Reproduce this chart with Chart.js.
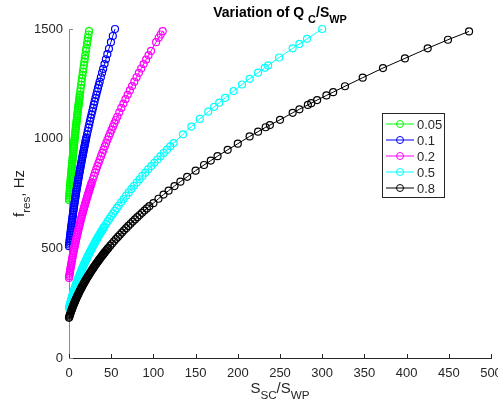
<!DOCTYPE html>
<html>
<head>
<meta charset="utf-8">
<title>Variation of Q_C/S_WP</title>
<script src="https://cdn.jsdelivr.net/npm/chart.js@4.4.1/dist/chart.umd.min.js"></script>
<style>
  html, body { margin: 0; padding: 0; background: #fff; }
  #chart { display: block; }
</style>
</head>
<body>
<canvas id="chart" width="498" height="410"></canvas>
<script>
// series: Q_C/S_WP ratio -> f_res vs S_SC/S_WP
const seriesLabels = ["0.05", "0.1", "0.2", "0.5", "0.8"];
const seriesColors = ["#00ff00", "#0000ff", "#ff00ff", "#00ffff", "#000000"];
const xTicks = [0, 50, 100, 150, 200, 250, 300, 350, 400, 450, 500];
const yTicks = [0, 500, 1000, 1500];

const xs005 = [0, 0.15, 0.3, 0.46, 0.61, 0.77, 0.93, 1.09, 1.25, 1.42, 1.58, 1.75, 1.92, 2.09, 2.26, 2.43, 2.61, 2.78, 2.96, 3.14,
  3.32, 3.5, 3.69, 3.87, 4.06, 4.25, 4.44, 4.63, 4.83, 5.02, 5.22, 5.42, 5.62, 5.82, 6.02, 6.22, 6.43, 6.64, 6.85, 7.06,
  7.27, 7.48, 7.7, 7.92, 8.14, 8.36, 8.58, 8.8, 9.03, 9.25, 9.48, 9.71, 9.94, 10.17, 10.41, 10.64, 10.88, 11.12, 11.36, 11.6,
  11.85, 12.09, 12.34, 12.59, 12.84, 13.34, 13.85, 14.37, 14.89, 15.42, 15.96, 16.5, 17.05, 17.6, 18.16, 18.73, 19.3, 20.08,
  20.55, 21.26, 21.86, 22.47, 23.08, 23.7];
const fr005 = [720, 727.5, 735, 742.5, 750, 757.5, 765, 772.5, 780, 787.5, 795, 802.5, 810, 817.5, 825, 832.5, 840, 847.5, 855, 862.5,
  870, 877.5, 885, 892.5, 900, 907.5, 915, 922.5, 930, 937.5, 945, 952.5, 960, 967.5, 975, 982.5, 990, 997.5, 1005, 1012.5,
  1020, 1027.5, 1035, 1042.5, 1050, 1057.5, 1065, 1072.5, 1080, 1087.5, 1095, 1102.5, 1110, 1117.5, 1125, 1132.5, 1140, 1147.5, 1155, 1162.5,
  1170, 1177.5, 1185, 1192.5, 1200, 1215, 1230, 1245, 1260, 1275, 1290, 1305, 1320, 1335, 1350, 1365, 1380, 1400,
  1412, 1430, 1445, 1460, 1475, 1490];

const xs01 = [0, 0.21, 0.43, 0.64, 0.86, 1.09, 1.31, 1.54, 1.78, 2.01, 2.25, 2.49, 2.74, 2.99, 3.24, 3.49, 3.75, 4.01, 4.27, 4.54,
  4.81, 5.08, 5.36, 5.64, 5.92, 6.2, 6.49, 6.78, 7.08, 7.37, 7.68, 7.98, 8.29, 8.6, 8.91, 9.22, 9.54, 9.87, 10.19, 10.52,
  10.85, 11.18, 11.52, 11.86, 12.21, 12.55, 12.9, 13.26, 13.61, 13.97, 14.33, 14.7, 15.07, 15.44, 15.81, 16.19, 16.57, 16.95, 17.34, 17.73,
  18.12, 18.52, 18.92, 19.32, 19.73, 20.14, 20.55, 21.38, 22.22, 23.08, 23.95, 24.83, 25.72, 26.63, 27.55, 28.48, 29.42, 30.38,
  31.35, 32.33, 33.32, 34.32, 35.34, 36.37, 37.76, 39.18, 40.47, 42.07, 43.7, 45.43, 47.34, 49.69, 51.92, 54.52];
const fr01 = [510, 517.5, 525, 532.5, 540, 547.5, 555, 562.5, 570, 577.5, 585, 592.5, 600, 607.5, 615, 622.5, 630, 637.5, 645, 652.5,
  660, 667.5, 675, 682.5, 690, 697.5, 705, 712.5, 720, 727.5, 735, 742.5, 750, 757.5, 765, 772.5, 780, 787.5, 795, 802.5,
  810, 817.5, 825, 832.5, 840, 847.5, 855, 862.5, 870, 877.5, 885, 892.5, 900, 907.5, 915, 922.5, 930, 937.5, 945, 952.5,
  960, 967.5, 975, 982.5, 990, 997.5, 1005, 1020, 1035, 1050, 1065, 1080, 1095, 1110, 1125, 1140, 1155, 1170,
  1185, 1200, 1215, 1230, 1245, 1260, 1280, 1300, 1318, 1340, 1362, 1385, 1410, 1440, 1468, 1500];

const xs02 = [0, 0.29, 0.59, 0.9, 1.21, 1.53, 1.86, 2.19, 2.52, 2.86, 3.21, 3.57, 3.93, 4.29, 4.66, 5.04, 5.43, 5.82, 6.21, 6.61,
  7.02, 7.44, 7.86, 8.28, 8.71, 9.15, 9.59, 10.04, 10.5, 10.96, 11.43, 11.9, 12.38, 12.87, 13.36, 13.86, 14.36, 14.87, 15.39, 15.91,
  16.44, 16.97, 17.51, 18.06, 18.61, 19.16, 19.73, 20.3, 20.87, 21.45, 22.04, 22.64, 23.23, 23.84, 24.45, 25.07, 25.69, 26.32, 26.96,
  28.25, 29.56, 30.89, 32.25, 33.64, 35.05, 36.48, 37.94, 39.42, 40.92, 42.45, 44.0, 45.57, 47.17, 48.8, 50.45, 52.12, 53.81, 55.53, 57.28,
  59.64, 62.04, 64.49, 66.98, 69.51, 72.08, 74.7, 77.36, 80.06, 82.81, 85.59, 88.42, 91.3, 94.21, 97.17, 103.21, 106.3, 108.64, 111.0];
const fr02 = [365, 372.5, 380, 387.5, 395, 402.5, 410, 417.5, 425, 432.5, 440, 447.5, 455, 462.5, 470, 477.5, 485, 492.5, 500, 507.5,
  515, 522.5, 530, 537.5, 545, 552.5, 560, 567.5, 575, 582.5, 590, 597.5, 605, 612.5, 620, 627.5, 635, 642.5, 650, 657.5,
  665, 672.5, 680, 687.5, 695, 702.5, 710, 717.5, 725, 732.5, 740, 747.5, 755, 762.5, 770, 777.5, 785, 792.5, 800,
  815, 830, 845, 860, 875, 890, 905, 920, 935, 950, 965, 980, 995, 1010, 1025, 1040, 1055, 1070, 1085, 1100,
  1120, 1140, 1160, 1180, 1200, 1220, 1240, 1260, 1280, 1300, 1320, 1340, 1360, 1380, 1400, 1440, 1460, 1475, 1490];

const xs05 = [0, 0.38, 0.76, 1.16, 1.57, 1.98, 2.41, 2.84, 3.29, 3.74, 4.21, 4.68, 5.17, 5.66, 6.17, 6.68, 7.21, 7.74, 8.28, 8.84,
  9.4, 9.97, 10.56, 11.15, 11.75, 12.36, 12.99, 13.62, 14.26, 14.91, 15.57, 16.25, 16.93, 17.62, 18.32, 19.03, 19.75, 20.48, 21.22, 21.97,
  22.73, 23.5, 24.28, 25.07, 25.87, 26.68, 27.5, 28.32, 29.16, 30.01, 30.87, 31.74, 32.61, 33.5, 34.4, 35.31, 36.22, 37.15, 38.09, 39.03,
  39.99, 40.96, 41.93, 43.91, 45.93, 47.99, 50.09, 52.23, 54.41, 56.63, 58.88, 61.76, 64.7, 67.7, 70.76, 73.88, 77.06, 80.31, 83.61, 86.98,
  90.41, 93.9, 97.45, 101.06, 104.73, 108.47, 112.27, 116.13, 120.05, 124.03, 135, 145, 155, 165, 172, 178, 185, 195, 205, 214,
  224, 232, 236, 249, 265, 273, 282, 300];
const fr05 = [227, 233, 239, 245, 251, 257, 263, 269, 275, 281, 287, 293, 299, 305, 311, 317, 323, 329, 335, 341,
  347, 353, 359, 365, 371, 377, 383, 389, 395, 401, 407, 413, 419, 425, 431, 437, 443, 449, 455, 461,
  467, 473, 479, 485, 491, 497, 503, 509, 515, 521, 527, 533, 539, 545, 551, 557, 563, 569, 575, 581,
  587, 593, 599, 611, 623, 635, 647, 659, 671, 683, 695, 710, 725, 740, 755, 770, 785, 800, 815, 830,
  845, 860, 875, 890, 905, 920, 935, 950, 965, 980, 1020, 1055, 1090, 1123, 1145, 1164, 1186, 1217, 1247, 1273,
  1301, 1323, 1334, 1370, 1412, 1432, 1455, 1500];

const xs08 = [0, 0.44, 0.89, 1.35, 1.82, 2.31, 2.81, 3.33, 3.86, 4.4, 4.95, 5.51, 6.09, 6.68, 7.29, 7.91, 8.54, 9.18, 9.84, 10.51,
  11.19, 11.88, 12.59, 13.31, 14.05, 14.79, 15.55, 16.33, 17.11, 17.91, 18.72, 19.55, 20.38, 21.23, 22.1, 22.97, 23.86, 24.76, 25.68, 26.61,
  27.55, 28.5, 29.47, 30.45, 31.44, 32.45, 33.46, 34.49, 35.54, 36.6, 37.67, 38.75, 39.84, 40.95, 42.08, 43.21, 44.36, 45.52, 46.69,
  48.86, 51.07, 53.32, 55.61, 57.95, 60.33, 62.76, 65.22, 67.73, 70.28, 72.88, 75.51, 78.19, 80.91, 83.68, 86.49, 89.34, 92.23, 95.17,
  100, 106, 112, 118, 125, 132, 140, 150, 160, 168, 176, 188, 200, 214, 224, 233, 238, 250, 265, 273,
  283, 287, 294, 305, 313, 327, 348, 372, 398, 425, 449, 474];
const fr08 = [183, 188.5, 194, 199.5, 205, 210.5, 216, 221.5, 227, 232.5, 238, 243.5, 249, 254.5, 260, 265.5, 271, 276.5, 282, 287.5,
  293, 298.5, 304, 309.5, 315, 320.5, 326, 331.5, 337, 342.5, 348, 353.5, 359, 364.5, 370, 375.5, 381, 386.5, 392, 397.5,
  403, 408.5, 414, 419.5, 425, 430.5, 436, 441.5, 447, 452.5, 458, 463.5, 469, 474.5, 480, 485.5, 491, 496.5, 502,
  512, 522, 532, 542, 552, 562, 572, 582, 592, 602, 612, 622, 632, 642, 652, 662, 672, 682, 692,
  706, 726, 745, 763, 784, 804, 826, 854, 880, 900, 920, 949, 977, 1010, 1032, 1052, 1062, 1086, 1118, 1134,
  1154, 1162, 1176, 1197, 1212, 1239, 1278, 1322, 1366, 1412, 1451, 1489];

const seriesX = [xs005, xs01, xs02, xs05, xs08];
const seriesF = [fr005, fr01, fr02, fr05, fr08];

const FONT = "'Liberation Sans', Arial, Helvetica, sans-serif";
const TEXT = "#262626";

// draws text runs, some as subscripts, centred on cx
function drawRich(ctx, parts, cx, y, size, bold) {
  const w = bold ? "bold " : "";
  const fontFor = p => w + (p.sub ? size * 0.78 : size) + "px " + FONT;
  let total = 0;
  parts.forEach(p => { ctx.font = fontFor(p); total += ctx.measureText(p.t).width; });
  let x = cx - total / 2;
  ctx.textAlign = "left";
  ctx.textBaseline = "alphabetic";
  parts.forEach(p => {
    ctx.font = fontFor(p);
    ctx.fillText(p.t, x, p.sub ? y + size * 0.42 : y);
    x += ctx.measureText(p.t).width;
  });
}

const decorations = {
  id: "decorations",
  beforeDatasetsDraw(chart) {
    const { ctx, chartArea: a, scales } = chart;
    ctx.save();
    ctx.lineWidth = 1;
    ctx.strokeStyle = TEXT;
    xTicks.forEach(v => {
      const px = Math.round(scales.x.getPixelForValue(v)) + 0.5;
      ctx.beginPath(); ctx.moveTo(px, a.bottom); ctx.lineTo(px, a.bottom - 4); ctx.stroke();
    });
    ctx.strokeStyle = "#8a8a8a";
    yTicks.forEach(v => {
      const py = Math.round(scales.y.getPixelForValue(v)) + 0.5;
      ctx.beginPath(); ctx.moveTo(a.left, py); ctx.lineTo(a.left + 4, py); ctx.stroke();
    });
    ctx.restore();
  },
  afterDraw(chart) {
    const { ctx, chartArea: a } = chart;
    const cx = (a.left + a.right) / 2;
    ctx.save();
    ctx.fillStyle = "#000";
    drawRich(ctx, [{ t: "Variation of Q " }, { t: "C", sub: true }, { t: "/S" }, { t: "WP", sub: true }], cx, 17, 14, true);
    ctx.fillStyle = TEXT;
    drawRich(ctx, [{ t: "S" }, { t: "SC", sub: true }, { t: "/S" }, { t: "WP", sub: true }], cx, 393, 15, false);
    ctx.translate(24, (a.top + a.bottom) / 2);
    ctx.rotate(-Math.PI / 2);
    drawRich(ctx, [{ t: "f" }, { t: "res", sub: true }, { t: ", Hz" }], 0, 0, 15, false);
    ctx.restore();

    // legend box
    const bx = 382.5, by = 113.5, bw = 62, bh = 84;
    ctx.save();
    ctx.fillStyle = "#fff";
    ctx.fillRect(bx, by, bw, bh);
    ctx.strokeStyle = TEXT;
    ctx.lineWidth = 1;
    ctx.strokeRect(bx, by, bw, bh);
    ctx.font = "13px " + FONT;
    ctx.textBaseline = "middle";
    ctx.textAlign = "left";
    chart.data.datasets.forEach((ds, i) => {
      const ry = 124 + i * 16;
      ctx.strokeStyle = ds.borderColor;
      ctx.beginPath(); ctx.moveTo(386, ry); ctx.lineTo(414, ry); ctx.stroke();
      ctx.beginPath(); ctx.arc(400, ry, 3.5, 0, Math.PI * 2); ctx.stroke();
      ctx.fillStyle = TEXT;
      ctx.fillText(ds.label, 417, ry + 1);
    });
    ctx.restore();
  }
};

const datasets = seriesLabels.map((label, i) => ({
  label,
  data: seriesX[i].map((x, j) => ({ x, y: seriesF[i][j] })),
  borderColor: seriesColors[i],
  backgroundColor: "rgba(0,0,0,0)",
  borderWidth: 1,
  pointRadius: 3.5,
  pointBorderWidth: 1.2,
  pointBackgroundColor: "rgba(0,0,0,0)",
  pointBorderColor: seriesColors[i],
  tension: 0,
  clip: false,
  order: seriesLabels.length - i
}));

new Chart(document.getElementById("chart").getContext("2d"), {
  type: "line",
  data: { datasets },
  options: {
    responsive: false,
    animation: false,
    layout: { padding: { top: 29, right: 7, left: 0, bottom: 0 } },
    plugins: { legend: { display: false }, tooltip: { enabled: false } },
    scales: {
      x: {
        type: "linear", min: 0, max: 500,
        afterBuildTicks: s => { s.ticks = xTicks.map(v => ({ value: v })); },
        afterFit: s => { s.height = 52; s.paddingLeft = 0; s.paddingRight = 0; },
        grid: { drawOnChartArea: false, drawTicks: false },
        border: { color: TEXT, width: 1 },
        ticks: { color: TEXT, font: { family: FONT, size: 13 }, padding: 8, maxRotation: 0, callback: v => String(v) }
      },
      y: {
        type: "linear", min: 0, max: 1500,
        afterBuildTicks: s => { s.ticks = yTicks.map(v => ({ value: v })); },
        afterFit: s => { s.width = 69; s.paddingTop = 0; s.paddingBottom = 0; },
        grid: { drawOnChartArea: false, drawTicks: false },
        border: { color: "#8a8a8a", width: 1 },
        ticks: { color: TEXT, font: { family: FONT, size: 13 }, padding: 6, callback: v => String(v) }
      }
    }
  },
  plugins: [decorations]
});
</script>
</body>
</html>
